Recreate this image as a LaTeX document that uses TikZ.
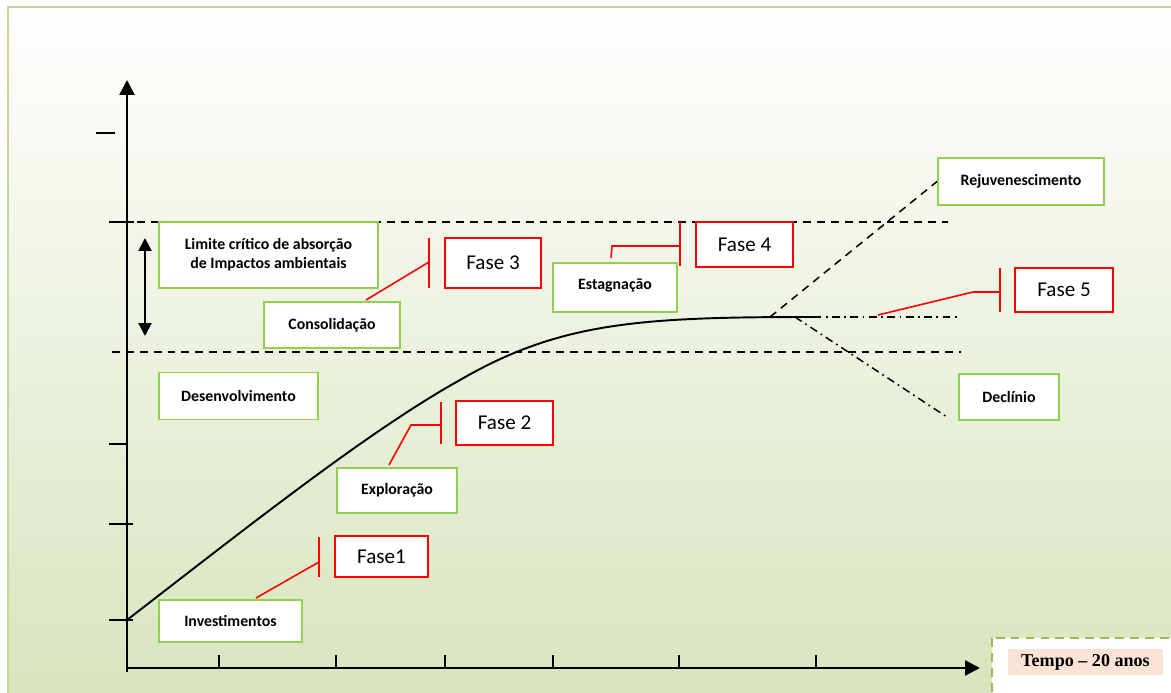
\documentclass[tikz,border=0pt]{standalone}
\usepackage{fontspec}
\setmainfont{Carlito}
\newfontfamily\timesf{Liberation Serif}
\usetikzlibrary{arrows.meta}
\definecolor{boxgreen}{RGB}{146,208,80}
\definecolor{framegreen}{RGB}{195,214,155}
\definecolor{bgbottom}{RGB}{215,228,188}
\definecolor{tempogreen}{RGB}{155,187,89}
\definecolor{peach}{RGB}{251,228,213}
\tikzset{
  wd/.style={minimum width=#1*0.02cm},
  ht/.style={minimum height=#1*0.02cm},
  greenbox/.style={draw=boxgreen, line width=1.1pt, fill=white, inner sep=0pt,
    font=\fontsize{9}{11}\selectfont\bfseries, align=center},
  redbox/.style={draw=red, line width=1pt, fill=white, inner sep=0pt,
    font=\fontsize{12}{14}\selectfont},
  callout/.style={draw=red, line width=0.9pt},
  axis/.style={line width=1.4pt, -{Triangle[length=0.3cm, width=0.3cm]}},
  tick/.style={line width=1pt},
  limitline/.style={line width=0.85pt, dash pattern=on 4.5pt off 3.4pt},
  rejline/.style={line width=0.85pt, dash pattern=on 4.5pt off 3.4pt},
  dashdot/.style={line width=0.85pt, dash pattern=on 4.5pt off 2.5pt on 1pt off 2.5pt},
  curve/.style={line width=1.1pt},
}
\begin{document}
\begin{tikzpicture}[x=0.02cm, y=-0.02cm]
\useasboundingbox (0,0) rectangle (1171,693);
\clip (0,0) rectangle (1171,693);
% background
\shade[top color=white, bottom color=bgbottom] (8,7) rectangle (1190,710);
\draw[framegreen, line width=1.6pt] (8,7) rectangle (1190,710);

% axes
\coordinate (O) at (127,668);
\coordinate (ytop) at (127,80);
\coordinate (xend) at (980,668);
\coordinate (ybot) at (127,672);
\draw[axis] (ybot) -- (ytop);
\draw[axis] (O) -- (xend);

% y ticks
\coordinate (ty0a) at (96,133);  \coordinate (ty0b) at (115,133);
\coordinate (ty1a) at (109,222); \coordinate (ty1b) at (134,222);
\coordinate (ty2a) at (109,444); \coordinate (ty2b) at (127,444);
\coordinate (ty3a) at (109,524); \coordinate (ty3b) at (133,524);
\coordinate (ty4a) at (109,620); \coordinate (ty4b) at (133,620);
\draw[tick] (ty0a) -- (ty0b);
\draw[tick] (ty1a) -- (ty1b);
\draw[tick] (ty2a) -- (ty2b);
\draw[tick] (ty3a) -- (ty3b);
\draw[tick] (ty4a) -- (ty4b);
% x ticks
\foreach \xx [count=\i] in {219,336,445,553,679,816}{
  \coordinate (tx\i a) at (\xx,655);
  \coordinate (tx\i b) at (\xx,668);
  \draw[tick] (tx\i a) -- (tx\i b);
}

% limit dashed lines
\coordinate (up1) at (137,222); \coordinate (up2) at (948,222);
\coordinate (lo1) at (112,352); \coordinate (lo2) at (961,352);
\draw[limitline] (up1) -- (up2);
\draw[limitline] (lo1) -- (lo2);

% double arrow
\coordinate (da1) at (145,238); \coordinate (da2) at (145,336);
\draw[line width=1.2pt, {Triangle[length=0.26cm, width=0.26cm]}-{Triangle[length=0.26cm, width=0.26cm]}] (da1) -- (da2);

% curve
\coordinate (c0) at (127,620);
\coordinate (cm) at (460,380);
\coordinate (cend) at (813,317);
\draw[curve] (c0) .. controls (250,525) and (370,430) .. (cm)
  .. controls (560,322) and (640,317) .. (cend);

% green boxes
\node[greenbox, wd=219, ht=66] (lim) at (268.5,255) {Limite crítico de absorção\\de Impactos ambientais};
\node[greenbox, wd=136, ht=46] (cons) at (332,325) {Consolidação};
\node[greenbox, wd=159, ht=47] (des) at (238.5,396) {Desenvolvimento};
\node[greenbox, wd=120, ht=45] (exp) at (397,490.5) {Exploração};
\node[greenbox, wd=143, ht=42] (inv) at (230.5,621) {Investimentos};
\node[greenbox, wd=124, ht=49] (est) at (615,287.5) {};
\node[fill=white, inner sep=0pt, wd=92, ht=23, font=\fontsize{9}{11}\selectfont\bfseries] (esttxt) at (615,285.5) {Estagnação};
\node[greenbox, wd=166, ht=47] (rej) at (1021,181.5) {Rejuvenescimento};
\node[greenbox, wd=100, ht=46] (dec) at (1009,397) {Declínio};

% branches after stagnation
\coordinate (br0) at (770,317);
\coordinate (br1) at (795,317);
\coordinate (hend) at (957,317);
\coordinate (dend) at (947,417);
\draw[rejline] (br0) -- (rej.west);
\draw[dashdot] (br1) -- (hend);
\draw[dashdot] (br1) -- (dend);

% red boxes
\node[redbox, wd=93, ht=41] (f1) at (381.5,556.5) {Fase1};
\node[redbox, wd=97, ht=44] (f2) at (504.5,423) {Fase 2};
\node[redbox, wd=96, ht=50] (f3) at (493,263) {Fase 3};
\node[redbox, wd=97, ht=45] (f4) at (744.5,244.5) {Fase 4};
\node[redbox, wd=98, ht=44] (f5) at (1064,290) {Fase 5};

% callouts
% Fase 1
\coordinate (b1t) at (319,537); \coordinate (b1b) at (319,577);
\coordinate (b1m) at (319,562); \coordinate (s1) at (256,598);
\draw[callout] (b1t) -- (b1b);
\draw[callout] (s1) -- (b1m);
% Fase 2
\coordinate (b2t) at (441,402); \coordinate (b2b) at (441,444);
\coordinate (b2m) at (441,425); \coordinate (k2) at (411,425); \coordinate (s2) at (389,465);
\draw[callout] (b2t) -- (b2b);
\draw[callout] (s2) -- (k2) -- (b2m);
% Fase 3
\coordinate (b3t) at (429,238); \coordinate (b3b) at (429,288);
\coordinate (b3m) at (429,262); \coordinate (s3) at (366,300);
\draw[callout] (b3t) -- (b3b);
\draw[callout] (s3) -- (b3m);
% Fase 4
\coordinate (b4t) at (680,222); \coordinate (b4b) at (680,266);
\coordinate (b4m) at (680,246); \coordinate (k4) at (612,246); \coordinate (s4) at (611,258);
\draw[callout] (b4t) -- (b4b);
\draw[callout] (s4) -- (k4) -- (b4m);
% Fase 5
\coordinate (b5t) at (1000,268); \coordinate (b5b) at (1000,312);
\coordinate (b5m) at (1000,292); \coordinate (k5) at (973,292); \coordinate (s5) at (878,315);
\draw[callout] (b5t) -- (b5b);
\draw[callout] (s5) -- (k5) -- (b5m);

% time box
\draw[draw=tempogreen, fill=white, line width=1.6pt, dash pattern=on 5pt off 3.5pt] (992,638) rectangle (1200,720);
\node[fill=peach, inner sep=0pt, wd=155, ht=26, font=\timesf\fontsize{10.3}{12}\selectfont\bfseries] (tempo) at (1085.5,662) {Tempo – 20 anos};
\end{tikzpicture}
\end{document}
